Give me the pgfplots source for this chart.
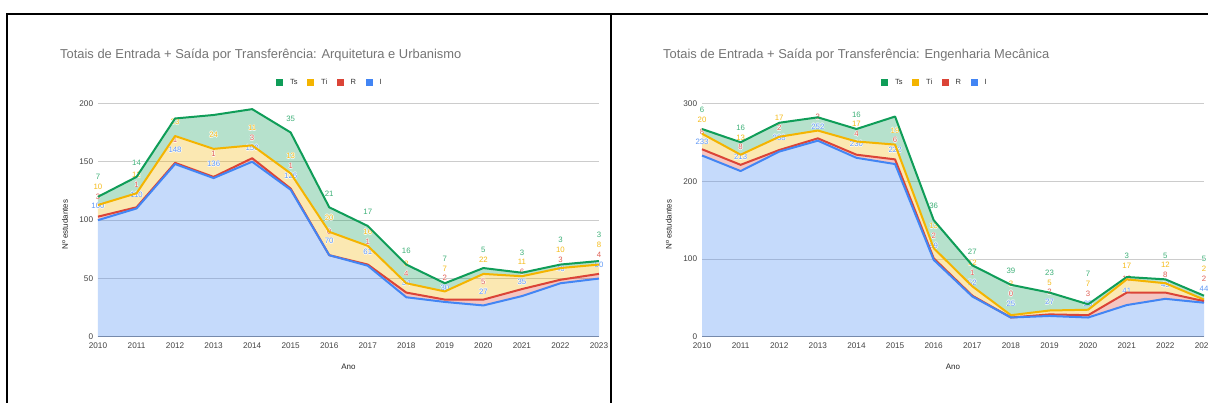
\documentclass[border=0pt]{standalone}
\usepackage{fontspec}
\setmainfont{Liberation Sans}
\usepackage{pgfplots}
\pgfplotsset{compat=1.18}
\usepackage{pgfplotstable}

\definecolor{cI}{HTML}{4285F4}
\definecolor{cR}{HTML}{DB4437}
\definecolor{cTi}{HTML}{F4B400}
\definecolor{cTs}{HTML}{0F9D58}
\definecolor{ttl}{HTML}{757575}
\definecolor{grd}{HTML}{CCCCCC}
\definecolor{tck}{HTML}{444444}

\pgfplotstableread{
Y I R Ti Ts
2010 100 3 10 7
2011 110 1 12 14
2012 148 1 23 15
2013 136 1 24 29
2014 150 3 11 31
2015 126 1 13 35
2016 70 0 20 21
2017 61 1 16 17
2018 34 4 8 16
2019 30 2 7 7
2020 27 5 22 5
2021 35 6 11 3
2022 46 3 10 3
2023 50 4 8 3
}\tabA

\pgfplotstableread{
Y I R Ti Ts
2010 233 8 20 6
2011 213 8 13 16
2012 238 2 17 18
2013 252 3 10 17
2014 230 4 17 16
2015 222 6 19 36
2016 99 2 13 36
2017 52 1 12 27
2018 25 0 3 39
2019 27 2 5 23
2020 25 3 7 7
2021 41 16 17 3
2022 49 8 12 5
2023 44 2 2 5
}\tabB

\tikzset{lbl/.style={font=\fontsize{7.8}{8}\selectfont, inner sep=0pt, anchor=center}}

% label text with a thin white halo
\newcommand\halo[2]{\leavevmode
  \rlap{\color{white}\kern0.6pt#2}%
  \rlap{\color{white}\kern-0.6pt#2}%
  \rlap{\color{white}\raisebox{0.6pt}{#2}}%
  \rlap{\color{white}\raisebox{-0.6pt}{#2}}%
  {\color{#1}#2}}

\newcommand\onelab[4]{%
  \ifdim#2pt<\labthr pt\relax
    \edef\temp{\noexpand\node[lbl] at (axis cs:#1,#2) {\noexpand\halo{#4}{#3}};}\temp
  \fi}
\newcommand\stacklab[5]{%
  \pgfmathsetmacro\LabB{#2+\labo}%
  \pgfmathsetmacro\LabR{max(#2+#3+\labo,\LabB+\labg)}%
  \pgfmathsetmacro\LabY{max(#2+#3+#4+\labo,\LabR+\labg)}%
  \pgfmathsetmacro\LabG{max(#2+#3+#4+#5+\labo,\LabY+\labg)}%
  \onelab{#1}{\LabB}{#2}{cI!85}%
  \onelab{#1}{\LabR}{#3}{cR!85}%
  \onelab{#1}{\LabY}{#4}{cTi!90}%
  \onelab{#1}{\LabG}{#5}{cTs!80}%
}

\pgfplotsset{
 gbase/.style={
  scale only axis, anchor=south west,
  width=501pt, height=233.7pt,
  xmin=2010, xmax=2023, ymin=0, enlargelimits=false,
  stack plots=y},
 gchart/.style={
  xtick={2010,...,2023},
  axis line style={draw=none}, major tick length=0pt,
  ymajorgrids, grid style={grd, line width=1pt},
  extra y ticks={0}, extra y tick labels={},
  extra y tick style={grid style={black!45, line width=1pt}},
  tick label style={font=\fontsize{8.2}{9}\selectfont, text=tck,
    /pgf/number format/1000 sep={}, /pgf/number format/assume math mode=true},
  xticklabel style={anchor=base, inner sep=0pt, yshift=-12pt},
  yticklabel style={anchor=east, inner sep=0pt, xshift=-4.7pt},
  xlabel={Ano},
  xlabel style={at={(axis description cs:0.5,-0.1412)}, anchor=base, inner sep=0pt,
    font=\fontsize{8}{9}\selectfont, text=black!85},
  ylabel={Nº estudantes},
  ylabel style={at={(axis description cs:-0.0599,0.4806)}, anchor=base, inner sep=0pt,
    font=\fontsize{8}{9}\selectfont, text=black!85},
  title style={at={(axis description cs:-0.0758,1.1669)}, anchor=base west, inner sep=0pt,
    font=\fontsize{12.9}{14}\selectfont, text=ttl},
  legend columns=4,
  legend image code/.code={\fill[##1, draw=none] (0pt,-3.5pt) rectangle (7pt,3.5pt);},
  legend style={draw=none, fill=none, anchor=west, inner sep=0pt,
    font=\fontsize{7.5}{8}\selectfont, text=black!80,
    nodes={inner sep=0pt}, column sep=7pt,
    /tikz/every even column/.append style={column sep=9.5pt}},
  legend entries={Ts,Ti,R,I}},
 gline/.style={line width=2pt, line join=round},
 garea/.style={draw=none, fill opacity=0.3},
}

\begin{document}
\begin{tikzpicture}
\fill[white] (0pt,0pt) rectangle (1208pt,403pt);

% ---------- left chart: areas and decorations ----------
\begin{axis}[gbase, gchart, at={(98pt,66pt)}, ymax=200, ytick={0,50,100,150,200},
  title={Totais de Entrada + Saída por Transferência: Arquitetura e Urbanismo},
  legend style={at={(axis description cs:0.3553,1.0869)}}]
\addlegendimage{fill=cTs, draw=none}
\addlegendimage{fill=cTi, draw=none}
\addlegendimage{fill=cR, draw=none}
\addlegendimage{fill=cI, draw=none}
\addplot[garea, fill=cI] table[x=Y, y=I] {\tabA} \closedcycle;
\addplot[garea, fill=cR] table[x=Y, y=R] {\tabA} \closedcycle;
\addplot[garea, fill=cTi] table[x=Y, y=Ti] {\tabA} \closedcycle;
\addplot[garea, fill=cTs] table[x=Y, y=Ts] {\tabA} \closedcycle;
\end{axis}
% ---------- left chart: lines and labels ----------
\begin{axis}[gbase, hide axis, clip=false, at={(98pt,66pt)}, ymax=200]
\addplot[gline, cI] table[x=Y, y=I] {\tabA};
\addplot[gline, cR] table[x=Y, y=R] {\tabA};
\addplot[gline, cTi] table[x=Y, y=Ti] {\tabA};
\addplot[gline, cTs] table[x=Y, y=Ts] {\tabA};
\def\labo{11.98}\def\labg{8.39}\def\labthr{195.1}
\pgfplotsinvokeforeach{0,...,13}{%
  \pgfplotstablegetelem{#1}{Y}\of\tabA\let\vY\pgfplotsretval
  \pgfplotstablegetelem{#1}{I}\of\tabA\let\vI\pgfplotsretval
  \pgfplotstablegetelem{#1}{R}\of\tabA\let\vR\pgfplotsretval
  \pgfplotstablegetelem{#1}{Ti}\of\tabA\let\vTi\pgfplotsretval
  \pgfplotstablegetelem{#1}{Ts}\of\tabA\let\vTs\pgfplotsretval
  \stacklab{\vY}{\vI}{\vR}{\vTi}{\vTs}}
\end{axis}

% ---------- right chart: areas and decorations ----------
\begin{axis}[gbase, gchart, at={(702pt,66pt)}, width=502pt, ymax=300, ytick={0,100,200,300},
  title={Totais de Entrada + Saída por Transferência: Engenharia Mecânica},
  title style={at={(axis description cs:-0.0777,1.1669)}},
  ylabel style={at={(axis description cs:-0.0604,0.4806)}},
  legend style={at={(axis description cs:0.3566,1.0869)}}]
\addlegendimage{fill=cTs, draw=none}
\addlegendimage{fill=cTi, draw=none}
\addlegendimage{fill=cR, draw=none}
\addlegendimage{fill=cI, draw=none}
\addplot[garea, fill=cI] table[x=Y, y=I] {\tabB} \closedcycle;
\addplot[garea, fill=cR] table[x=Y, y=R] {\tabB} \closedcycle;
\addplot[garea, fill=cTi] table[x=Y, y=Ti] {\tabB} \closedcycle;
\addplot[garea, fill=cTs] table[x=Y, y=Ts] {\tabB} \closedcycle;
\end{axis}
% ---------- right chart: lines and labels ----------
\begin{axis}[gbase, hide axis, clip=false, at={(702pt,66pt)}, width=502pt, ymax=300]
\addplot[gline, cI] table[x=Y, y=I] {\tabB};
\addplot[gline, cR] table[x=Y, y=R] {\tabB};
\addplot[gline, cTi] table[x=Y, y=Ti] {\tabB};
\addplot[gline, cTs] table[x=Y, y=Ts] {\tabB};
\def\labo{17.97}\def\labg{12.58}\def\labthr{292.7}
\pgfplotsinvokeforeach{0,...,13}{%
  \pgfplotstablegetelem{#1}{Y}\of\tabB\let\vY\pgfplotsretval
  \pgfplotstablegetelem{#1}{I}\of\tabB\let\vI\pgfplotsretval
  \pgfplotstablegetelem{#1}{R}\of\tabB\let\vR\pgfplotsretval
  \pgfplotstablegetelem{#1}{Ti}\of\tabB\let\vTi\pgfplotsretval
  \pgfplotstablegetelem{#1}{Ts}\of\tabB\let\vTs\pgfplotsretval
  \stacklab{\vY}{\vI}{\vR}{\vTi}{\vTs}}
\end{axis}

% ---------- frame ----------
\draw[black, line width=2pt] (6pt,388.7pt) -- (1208pt,388.7pt);
\draw[black, line width=2pt] (7pt,0pt) -- (7pt,389.7pt);
\draw[black, line width=2pt] (611pt,0pt) -- (611pt,389.7pt);
\pgfresetboundingbox
\path[use as bounding box] (0pt,0pt) rectangle (1208pt,403pt);
\end{tikzpicture}
\end{document}
